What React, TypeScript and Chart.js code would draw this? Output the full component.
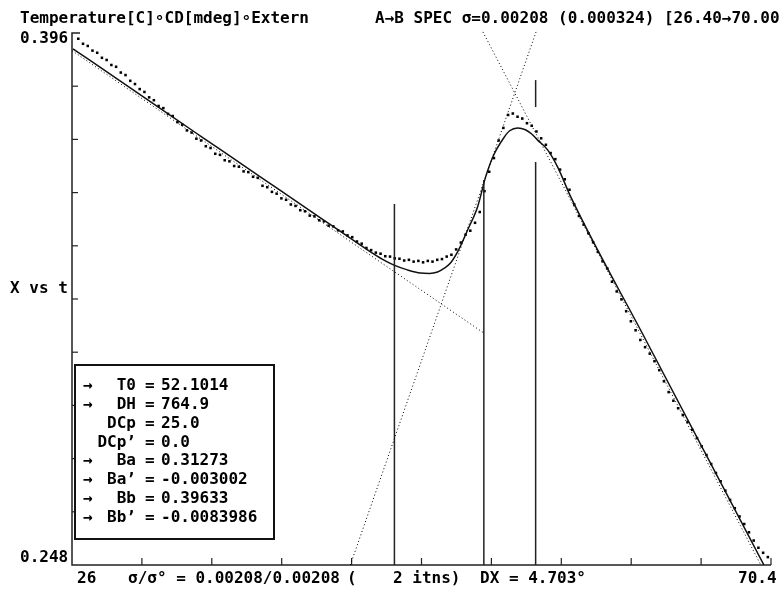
import React, { useEffect, useRef } from "react";
import { Chart, registerables } from "chart.js";
Chart.register(...registerables);

const X_MIN = 26;
const X_MAX = 70.4;
const Y_MIN = 0.248;
const Y_MAX = 0.396;

const dotTemps = [
  26.4, 26.7, 27.0, 27.3, 27.6, 27.9, 28.2, 28.5, 28.8, 29.1, 29.4, 29.7, 30.0, 30.3, 30.6, 30.9, 31.2, 31.5, 31.8, 32.1,
  32.4, 32.7, 33.0, 33.3, 33.6, 33.9, 34.2, 34.5, 34.8, 35.1, 35.4, 35.7, 36.0, 36.3, 36.6, 36.9, 37.2, 37.5, 37.8,
  38.1, 38.4, 38.7, 39.0, 39.3, 39.6, 39.9, 40.2, 40.5, 40.8, 41.1, 41.4, 41.7, 42.0, 42.3, 42.6, 42.9, 43.2, 43.5, 43.8,
  44.1, 44.4,
  44.7, 45.0, 45.3, 45.6, 45.9, 46.2, 46.5, 46.8, 47.1, 47.4, 47.7, 48.0, 48.3, 48.6, 48.9, 49.2, 49.5, 49.8, 50.1, 50.4,
  50.7, 51.0, 51.3, 51.6, 51.9, 52.2, 52.5, 52.8, 53.1, 53.4, 53.7, 54.0, 54.3, 54.6, 54.9, 55.2, 55.5, 55.8, 56.1, 56.4,
  56.7, 57.0, 57.3, 57.6,
  57.9, 58.2, 58.5, 58.8, 59.1, 59.4, 59.7, 60.0, 60.3, 60.6, 60.9, 61.2, 61.5, 61.8, 62.1, 62.4, 62.7, 63.0, 63.3, 63.6,
  63.9, 64.2, 64.5, 64.8, 65.1, 65.4, 65.7, 66.0, 66.3, 66.6, 66.9, 67.2, 67.5, 67.8, 68.1, 68.4, 68.7, 69.0, 69.3, 69.6,
  69.9, 70.2,
];

const dotValues = [
  0.3944, 0.3930, 0.3924, 0.3911, 0.3905, 0.3891, 0.3885, 0.3871, 0.3866, 0.3850, 0.3843, 0.3827, 0.3818, 0.3804, 0.3796,
  0.3781, 0.3773, 0.3757, 0.3751, 0.3735, 0.3729, 0.3712, 0.3705, 0.3689, 0.3683, 0.3666, 0.3661, 0.3645, 0.3640, 0.3624,
  0.3621, 0.3606, 0.3603, 0.3590, 0.3588, 0.3575, 0.3573, 0.3560, 0.3557,
  0.3535, 0.3531, 0.3518, 0.3513, 0.3500, 0.3496, 0.3483, 0.3479, 0.3467, 0.3464, 0.3452, 0.3450, 0.3439, 0.3436, 0.3424,
  0.3422, 0.3411, 0.3408, 0.3397, 0.3392, 0.3380, 0.3374,
  0.3362, 0.3356, 0.3349, 0.3346, 0.3339, 0.3338, 0.3333, 0.3332, 0.3327, 0.3329, 0.3324, 0.3326, 0.3322, 0.3326, 0.3324,
  0.3329, 0.3331, 0.3338, 0.3343, 0.3358, 0.3377, 0.3399, 0.3410, 0.3432, 0.3462, 0.3520, 0.3574, 0.3612, 0.3661, 0.3696,
  0.3732, 0.3736, 0.3727, 0.3722, 0.3709, 0.3702, 0.3686, 0.3667, 0.3649, 0.3626, 0.3609, 0.3580, 0.3553, 0.3524,
  0.3483, 0.3451, 0.3427, 0.3403, 0.3378, 0.3351, 0.3325, 0.3305, 0.3268, 0.3241, 0.3219, 0.3186, 0.3158, 0.3133, 0.3106,
  0.3086, 0.3068, 0.3047, 0.3022, 0.2991, 0.2961, 0.2937, 0.2916, 0.2897, 0.2878, 0.2856, 0.2833, 0.2810, 0.2786, 0.2761,
  0.2736, 0.2713, 0.2687, 0.2661, 0.2638, 0.2615, 0.2594, 0.2571, 0.2548, 0.2528, 0.2514, 0.2502,
];

const fitTemps = [
  26.06, 29.05, 31.6, 34.14, 36.69, 39.23, 41.78, 44.32, 44.96, 45.7, 46.42, 47.3, 48.14, 48.7,
  49.22, 49.65, 50.04, 50.55, 51.13, 51.76, 52.27, 52.78, 53.42, 53.8, 54.31, 54.8, 55.2, 55.58, 56.21, 56.85, 57.68,
  62.45, 69.95,
];
const fitValues = [
  0.3916, 0.3827, 0.3750, 0.3674, 0.3598, 0.3522, 0.3446, 0.3370, 0.3351, 0.3331, 0.3315, 0.3301,
  0.3292, 0.3291, 0.3295, 0.3306, 0.3320, 0.3356, 0.3412, 0.3476, 0.3559, 0.3620, 0.3668, 0.3688, 0.3696, 0.3691, 0.3679,
  0.3662, 0.3635, 0.3587, 0.3504, 0.3106, 0.2480,
];

const baselineATemps = [26.0, 52.1];
const baselineAValues = [0.3911, 0.3127];
const baselineBTemps = [52.1, 70.4];
const baselineBValues = [0.3963, 0.2426];
const tangentTemps = [43.68, 55.5];
const tangentValues = [0.248, 0.3966];

const markerTemps = [46.48, 52.16, 55.45, 55.45];
const markerLows = [0.248, 0.248, 0.248, 0.3754];
const markerHighs = [0.3484, 0.3551, 0.3601, 0.3829];

const paramArrows = ["→", "→", "", "", "→", "→", "→", "→"];
const paramNames = ["T0", "DH", "DCp", "DCp’", "Ba", "Ba’", "Bb", "Bb’"];
const paramValues = ["52.1014", "764.9", "25.0", "0.0", "0.31273", "-0.003002", "0.39633", "-0.0083986"];

const titleLeft = "Temperature[C]∘CD[mdeg]∘Extern";
const titleRight = "A→B SPEC σ=0.00208 (0.000324) [26.40→70.00";
const yTopLabel = "0.396";
const yBottomLabel = "0.248";
const yAxisLabel = "X vs t";
const xLeftLabel = "26";
const xRightLabel = "70.4";
const sigmaLabel = "σ/σ° = 0.00208/0.00208";
const itnsOpen = "(";
const itnsLabel = "2 itns)";
const dxLabel = "DX = 4.703°";

const FONT = 'bold 16px "DejaVu Sans Mono", "Liberation Mono", monospace';

const pts = (xs: number[], ys: number[]) => xs.map((x, i) => ({ x, y: ys[i] }));

const decorPlugin = {
  id: "decor",
  beforeDatasetsDraw(chart: any) {
    const { ctx, chartArea } = chart;
    const xs = chart.scales.x;
    const ys = chart.scales.y;
    ctx.save();
    ctx.strokeStyle = "#222";
    ctx.lineWidth = 1.5;
    ctx.beginPath();
    ctx.moveTo(chartArea.left + 8, chartArea.top);
    ctx.lineTo(chartArea.left, chartArea.top);
    ctx.lineTo(chartArea.left, chartArea.bottom);
    ctx.lineTo(chartArea.right, chartArea.bottom);
    ctx.stroke();
    ctx.lineWidth = 1.2;
    for (let k = 1; k <= 9; k++) {
      const py = ys.getPixelForValue(Y_MIN + (k * (Y_MAX - Y_MIN)) / 10);
      ctx.beginPath();
      ctx.moveTo(chartArea.left, py);
      ctx.lineTo(chartArea.left + 6, py);
      ctx.stroke();
    }
    for (let k = 1; k <= 10; k++) {
      const px = xs.getPixelForValue(X_MIN + (k * (X_MAX - X_MIN)) / 10);
      ctx.beginPath();
      ctx.moveTo(px, chartArea.bottom);
      ctx.lineTo(px, chartArea.bottom - 7);
      ctx.stroke();
    }
    ctx.restore();
  },
  afterDraw(chart: any) {
    const { ctx } = chart;
    ctx.save();
    ctx.fillStyle = "#000";
    ctx.font = FONT;
    ctx.textBaseline = "alphabetic";
    ctx.textAlign = "left";
    ctx.fillText(titleLeft, 20, 23);
    ctx.fillText(titleRight, 375, 23);
    ctx.fillText(yTopLabel, 20, 43);
    ctx.fillText(yAxisLabel, 10, 293);
    ctx.fillText(yBottomLabel, 20, 562);
    ctx.fillText(xLeftLabel, 77, 583);
    ctx.fillText(sigmaLabel, 128, 583);
    ctx.fillText(itnsOpen, 347, 583);
    ctx.fillText(itnsLabel, 393, 583);
    ctx.fillText(dxLabel, 480, 583);
    ctx.fillText(xRightLabel, 738, 583);

    // parameter box
    ctx.fillStyle = "#fff";
    ctx.fillRect(75, 365, 199, 174);
    ctx.strokeStyle = "#111";
    ctx.lineWidth = 2;
    ctx.strokeRect(75, 365, 199, 174);
    ctx.fillStyle = "#000";
    const baselines = [390, 409, 428, 447, 465, 484, 503, 522];
    for (let i = 0; i < paramNames.length; i++) {
      const by = baselines[i];
      if (paramArrows[i]) {
        ctx.textAlign = "left";
        ctx.fillText(paramArrows[i], 83, by);
      }
      ctx.textAlign = "right";
      ctx.fillText(paramNames[i], 136, by);
      ctx.textAlign = "left";
      ctx.fillText("=", 145, by);
      ctx.fillText(paramValues[i], 161, by);
    }
    ctx.restore();
  },
};

export default function App() {
  const ref = useRef<HTMLCanvasElement | null>(null);
  useEffect(() => {
    document.body.style.margin = "0";
    const canvas = ref.current;
    if (!canvas) return;
    const dotted = {
      showLine: true,
      pointRadius: 0,
      borderColor: "#000",
      borderWidth: 1,
      borderDash: [1, 2.5],
      fill: false,
      clip: { left: 0, top: 4, right: 0, bottom: 0 },
    };
    const markerSets = markerTemps.map((t, i) => ({
      data: [
        { x: t, y: markerLows[i] },
        { x: t, y: markerHighs[i] },
      ],
      showLine: true,
      pointRadius: 0,
      borderColor: "#222",
      borderWidth: 1.5,
      fill: false,
    }));
    const chart = new Chart(canvas, {
      type: "scatter",
      data: {
        datasets: [
          { ...dotted, data: pts(baselineATemps, baselineAValues) },
          { ...dotted, data: pts(baselineBTemps, baselineBValues) },
          { ...dotted, data: pts(tangentTemps, tangentValues) },
          ...markerSets,
          {
            data: pts(fitTemps, fitValues),
            showLine: true,
            pointRadius: 0,
            borderColor: "#111",
            borderWidth: 1.5,
            cubicInterpolationMode: "monotone",
            fill: false,
          },
          {
            data: pts(dotTemps, dotValues),
            showLine: false,
            pointStyle: "rect",
            pointRadius: 1.8,
            pointBorderWidth: 0,
            pointBackgroundColor: "#000",
            clip: 6,
          },
        ] as any,
      },
      options: {
        responsive: false,
        animation: false,
        devicePixelRatio: 1,
        layout: { padding: { left: 72, right: 10, top: 33, bottom: 25 } },
        plugins: { legend: { display: false }, tooltip: { enabled: false }, title: { display: false } },
        events: [],
        scales: {
          x: { type: "linear", min: X_MIN, max: X_MAX, display: false },
          y: { type: "linear", min: Y_MIN, max: Y_MAX, display: false },
        },
      } as any,
      plugins: [decorPlugin],
    });
    return () => chart.destroy();
  }, []);
  return (
    <div style={{ width: 781, height: 590, background: "#fff" }}>
      <canvas ref={ref} width={781} height={590} style={{ width: 781, height: 590, display: "block" }} />
    </div>
  );
}
